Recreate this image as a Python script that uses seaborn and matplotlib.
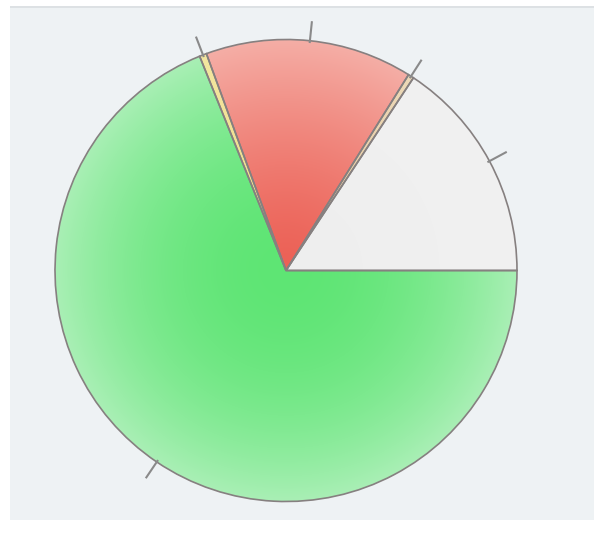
import numpy as np
import seaborn as sns
import matplotlib.pyplot as plt
from matplotlib.colors import to_rgb
from matplotlib.patches import Rectangle

# slice shares (percent), counter-clockwise from 3 o'clock
slice_names = ['A', 'B', 'C', 'D', 'E']
slice_shares = [15.7, 0.4, 14.5, 0.5, 68.9]
# outer and inner colour of each slice
slice_edge_colors = ['#f1f1f1', '#ecd9b8', '#f5aea6', '#f3e6a0', '#a9efb5']
slice_core_colors = ['#eeeeee', '#e6c79a', '#ec6156', '#eedc84', '#5ee574']
gamma = [1.0, 1.0, 1.4, 1.0, 2.0]

sns.set_theme(style='white')

fig = plt.figure(figsize=(5.94, 5.37), dpi=100, facecolor='white')
W, H = 594, 537
fig.patches.append(Rectangle((10 / W, 17 / H), 1, (H - 25) / H,
                             transform=fig.transFigure, facecolor='#eef2f4',
                             edgecolor='none', zorder=-2))
fig.patches.append(Rectangle((10 / W, (H - 8) / H), 1, 2.5 / H,
                             transform=fig.transFigure, facecolor='#dde1e4',
                             edgecolor='none', zorder=-2))

ax = fig.add_axes([0, 0, 1, 1])
ax.set_facecolor('none')

cx, cy, R = 286, 266.5, 231
wedges, _ = ax.pie(slice_shares, colors=slice_core_colors, startangle=0,
                   counterclock=True, center=(cx, cy), radius=R,
                   wedgeprops=dict(linewidth=0))

# radial gradient fill, clipped to each wedge
n = 400
xs = np.linspace(cx - R, cx + R, n)
ys = np.linspace(cy - R, cy + R, n)
X, Y = np.meshgrid(xs, ys)
r = np.clip(np.hypot(X - cx, Y - cy) / R, 0, 1)
for w, c_out, c_in, g in zip(wedges, slice_edge_colors, slice_core_colors, gamma):
    a, b = np.array(to_rgb(c_in)), np.array(to_rgb(c_out))
    t = r[..., None] ** g
    img = a * (1 - t) + b * t
    im = ax.imshow(img, extent=(cx - R, cx + R, cy - R, cy + R),
                   origin='lower', zorder=2, interpolation='bilinear')
    im.set_clip_path(w)

# outlines on top
outl, _ = ax.pie(slice_shares, colors=['none'] * len(slice_shares), startangle=0,
                 counterclock=True, center=(cx, cy), radius=R,
                 wedgeprops=dict(linewidth=1.2, edgecolor='#868080'))
for w in outl:
    w.set_zorder(3)

# short leader ticks at slice mid angles
cum = np.cumsum([0] + slice_shares)
for i in range(len(slice_shares)):
    mid = np.deg2rad((cum[i] + cum[i + 1]) / 2 * 3.6)
    rr = np.array([0.99, 1.085]) * R
    ax.plot(cx + rr * np.cos(mid), cy + rr * np.sin(mid), color='#8a8a8a',
            lw=1.5, zorder=4, solid_capstyle='butt')

ax.set_xlim(0, W)
ax.set_ylim(0, H)
ax.set_aspect('equal')
ax.axis('off')

fig.savefig('out.png', dpi=100, facecolor='white')
